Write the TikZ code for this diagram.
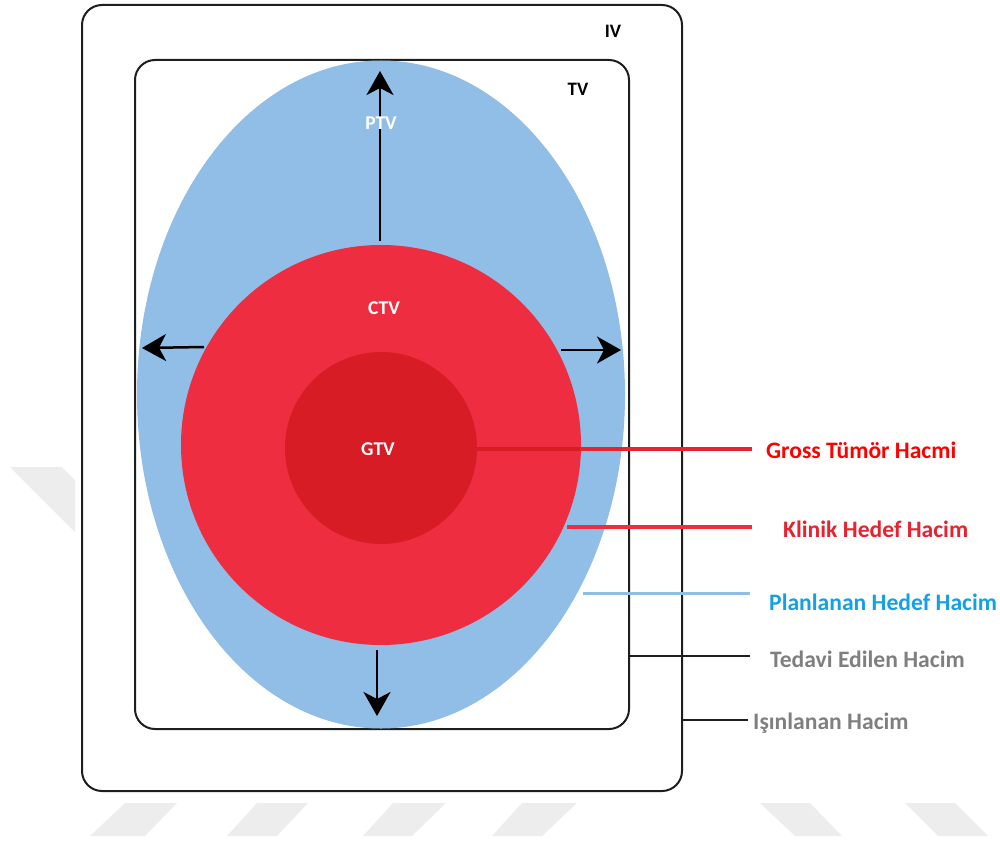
\documentclass[tikz,border=0pt]{standalone}
\usepackage{fontspec}
\setmainfont{Carlito}
\usetikzlibrary{arrows.meta}
\definecolor{ptvblue}{RGB}{145,190,230}
\definecolor{ctvred}{RGB}{238,45,64}
\definecolor{gtvred}{RGB}{215,28,38}
\definecolor{labred}{RGB}{255,0,0}
\definecolor{klred}{RGB}{232,34,47}
\definecolor{labblue}{RGB}{22,160,228}
\definecolor{labgray}{RGB}{127,127,127}
\definecolor{wm}{RGB}{237,237,237}
\definecolor{boxline}{RGB}{30,30,30}
\tikzset{
  volbox/.style={draw=boxline, line width=2pt, rounded corners=20pt},
  inlabel/.style={font=\bfseries\fontsize{19.5}{22}\selectfont, text=white, inner sep=0pt},
  boxlabel/.style={font=\bfseries\fontsize{19}{22}\selectfont, text=black, inner sep=0pt},
  legend/.style={font=\bfseries\fontsize{23.6}{26}\selectfont, anchor=west, inner sep=0pt},
  growarrow/.style={line width=2.5pt, -{Stealth[length=24pt,width=27pt,inset=7pt]}},
  watermark/.style={fill=wm, draw=none}
}
\begin{document}
\begin{tikzpicture}[x=1pt,y=-1pt]
\useasboundingbox (0,0) rectangle (1000,842);
% watermarks
\fill[watermark] (90,836) -- (125,803) -- (177,803) -- (145,836) -- cycle;
\fill[watermark] (227,836) -- (257,803) -- (308,803) -- (277,836) -- cycle;
\fill[watermark] (363,836) -- (393,803) -- (446,803) -- (412,836) -- cycle;
\fill[watermark] (492,836) -- (522,803) -- (577,803) -- (542,836) -- cycle;
\fill[watermark] (760,803) -- (810,803) -- (842,836) -- (795,836) -- cycle;
\fill[watermark] (905,803) -- (955,803) -- (988,836) -- (938,836) -- cycle;
\fill[watermark] (10,467) -- (62,467) -- (75,480) -- (75,532) -- cycle;
% boxes
\draw[volbox] (82,5) rectangle (682,791);
\draw[volbox] (135,60) rectangle (629,729);
% volumes
\fill[ptvblue] (381,394.5) ellipse [x radius=244, y radius=334];
\fill[ctvred] (381,445) circle [radius=200];
\fill[gtvred] (381,448) circle [radius=96];
% growth arrows
\coordinate (upS) at (380,241);
\coordinate (upE) at (380,71);
\coordinate (lfS) at (204,347);
\coordinate (lfE) at (142,348);
\coordinate (rtS) at (561,350);
\coordinate (rtE) at (621,350);
\coordinate (dnS) at (377,650);
\coordinate (dnE) at (377,716);
\draw[growarrow] (upS) -- (upE);
\draw[growarrow] (lfS) -- (lfE);
\draw[growarrow] (rtS) -- (rtE);
\draw[growarrow] (dnS) -- (dnE);
% labels inside
\node[inlabel] (ptv) at (381,123) {PTV};
\node[inlabel] (ctv) at (384,308) {CTV};
\node[inlabel] (gtv) at (378,449) {GTV};
\node[boxlabel] (tv) at (578,89) {TV};
\node[boxlabel] (iv) at (613,31) {IV};
% legend labels
\node[legend, text=labred] (gross) at (766,450) {Gross Tümör Hacmi};
\node[legend, text=klred] (klinik) at (783,529) {Klinik Hedef Hacim};
\node[legend, text=labblue] (plan) at (769,602) {Planlanan Hedef Hacim};
\node[legend, text=labgray] (tedavi) at (770,659) {Tedavi Edilen Hacim};
\node[legend, text=labgray] (isin) at (753,723) {Işınlanan Hacim};
% leader lines
\coordinate (gS) at (477,449);
\coordinate (gM) at (580,449);
\coordinate (gE) at (752,449);
\coordinate (kS) at (567,527);
\coordinate (kE) at (752,527);
\coordinate (pS) at (583,593);
\coordinate (pE) at (750,593);
\coordinate (tS) at (629,656);
\coordinate (tE) at (750,656);
\coordinate (iS) at (682,720);
\coordinate (iE) at (748,720);
\draw[gtvred, line width=4pt] (gS) -- (gM);
\draw[klred, line width=4pt] (gM) -- (gE);
\draw[ctvred, line width=4pt] (kS) -- (kE);
\draw[ptvblue, line width=3pt] (pS) -- (pE);
\draw[boxline, line width=2pt] (tS) -- (tE);
\draw[boxline, line width=2pt] (iS) -- (iE);
\end{tikzpicture}
\end{document}
